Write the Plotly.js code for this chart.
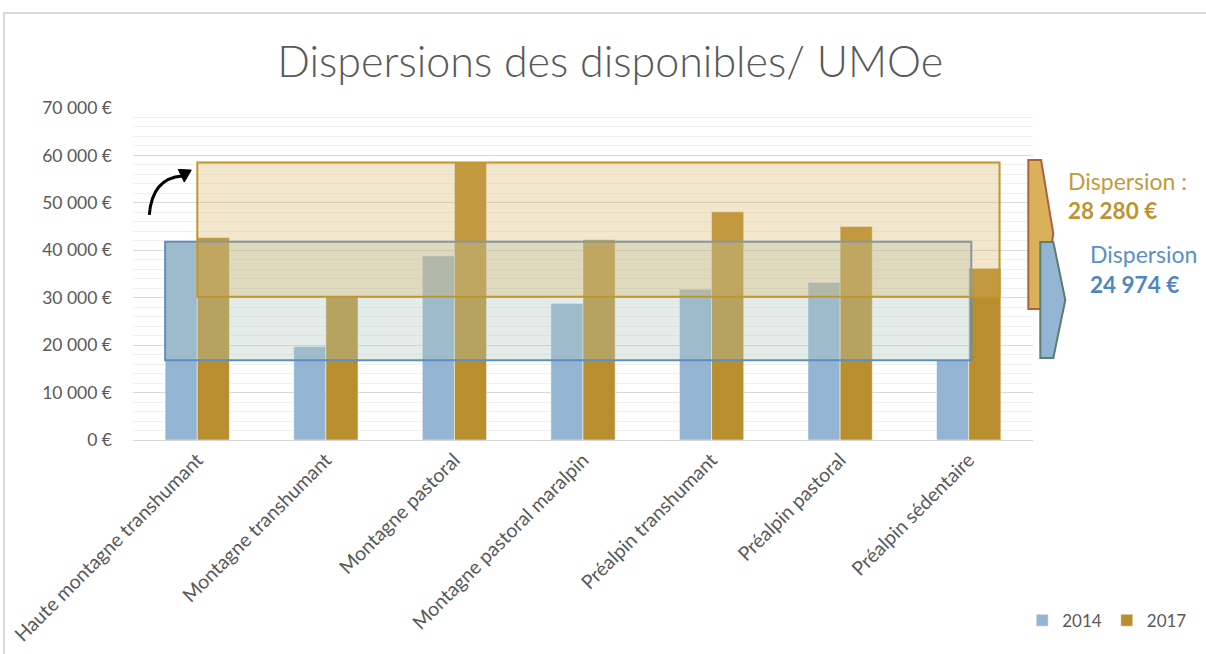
<!DOCTYPE html>
<html>
<head>
<meta charset="utf-8">
<script src="https://cdn.plot.ly/plotly-3.0.1.min.js"></script>
<style>
  html, body { margin: 0; padding: 0; background: #ffffff; overflow: hidden; }
  #chart { width: 1206px; height: 654px; }
</style>
</head>
<body>
<div id="chart"></div>
<script>
// ---- Data ----
const categories = [
  "Haute montagne transhumant",
  "Montagne transhumant",
  "Montagne pastoral",
  "Montagne pastoral maralpin",
  "Préalpin transhumant",
  "Préalpin pastoral",
  "Préalpin sédentaire"
];
const values2014 = [41800, 19700, 38800, 28800, 31800, 33200, 16826];
const values2017 = [42700, 30220, 58500, 42200, 48100, 45000, 36200];
const seriesNames = ["2014", "2017"];
const dispersionLabel2017 = ["Dispersion :", "28 280 €"];
const dispersionLabel2014 = ["Dispersion", "24 974 €"];

const FONT = "Lato, 'Open Sans', sans-serif";
const GREY = "#595959";
const BLUE = "#94b4d3";
const GOLD = "#b88e2f";

const traces = [
  { type: "bar", name: seriesNames[0], x: categories, y: values2014,
    marker: { color: BLUE, line: { color: "rgba(255,255,255,0.5)", width: 1 } } },
  { type: "bar", name: seriesNames[1], x: categories, y: values2017,
    marker: { color: GOLD, line: { color: "rgba(255,255,255,0.5)", width: 1 } } }
];

const min14 = Math.min(...values2014), max14 = Math.max(...values2014);
const min17 = Math.min(...values2017), max17 = Math.max(...values2017);

const shapes = [
  // chart-area frame (top and left edges)
  { type: "path", xref: "paper", yref: "paper",
    path: "M -0.1433,-0.66 L -0.1433,1.2861 L 1.20,1.2861",
    line: { color: "#d9d9d9", width: 2 } },
  // blue dispersion box (2014)
  { type: "rect", xref: "x", yref: "y", x0: -0.25, x1: 6.02, y0: min14, y1: max14,
    fillcolor: "rgba(177,200,191,0.35)", line: { color: "#5b8fc0", width: 2 }, layer: "above" },
  // gold dispersion box (2017)
  { type: "rect", xref: "x", yref: "y", x0: 0, x1: 6.24, y0: min17, y1: max17,
    fillcolor: "rgba(215,178,98,0.32)", line: { color: "#c0962f", width: 2 }, layer: "above" },
  // curved black arrow
  { type: "path", xref: "paper", yref: "paper",
    path: "M 0.0181,0.678 Q 0.0214,0.789 0.0550,0.795",
    line: { color: "#000000", width: 3 } },
  { type: "path", xref: "paper", yref: "paper",
    path: "M 0.0648,0.813 L 0.0503,0.815 L 0.0570,0.777 Z",
    fillcolor: "#000000", line: { color: "#000000", width: 1 } },
  // gold pentagon arrow
  { type: "path", xref: "paper", yref: "paper",
    path: "M 0.9948,0.8434 L 1.0090,0.8434 L 1.0226,0.6205 L 1.0090,0.3946 L 0.9948,0.3946 Z",
    fillcolor: "#d8b15a", line: { color: "#b0603a", width: 2 } },
  // blue pentagon arrow
  { type: "path", xref: "paper", yref: "paper",
    path: "M 1.0081,0.5964 L 1.0226,0.5964 L 1.0359,0.4217 L 1.0226,0.2470 L 1.0081,0.2470 Z",
    fillcolor: "#94b4d3", line: { color: "#5a7f6e", width: 2 } }
];

const annotations = [
  { xref: "paper", yref: "paper", x: 1.037, y: 0.780, xanchor: "left", yanchor: "middle",
    text: dispersionLabel2017[0], showarrow: false, font: { family: FONT, size: 23, color: "#c49a3c" } },
  { xref: "paper", yref: "paper", x: 1.037, y: 0.690, xanchor: "left", yanchor: "middle",
    text: "<b>" + dispersionLabel2017[1] + "</b>", showarrow: false, font: { family: FONT, size: 22.5, color: "#c0922e" } },
  { xref: "paper", yref: "paper", x: 1.061, y: 0.560, xanchor: "left", yanchor: "middle",
    text: dispersionLabel2014[0], showarrow: false, font: { family: FONT, size: 23, color: "#5b8fc6" } },
  { xref: "paper", yref: "paper", x: 1.061, y: 0.467, xanchor: "left", yanchor: "middle",
    text: "<b>" + dispersionLabel2014[1] + "</b>", showarrow: false, font: { family: FONT, size: 22.5, color: "#4f86bd" } }
];

const layout = {
  width: 1206, height: 654,
  margin: { l: 133, r: 173, t: 108, b: 214, pad: 0 },
  paper_bgcolor: "#ffffff",
  plot_bgcolor: "rgba(0,0,0,0)",
  separators: ", ",
  title: { text: "Dispersions des disponibles/ UMOe", x: 0.506, xanchor: "center",
           y: 0.905, yanchor: "middle",
           font: { family: FONT, size: 43, color: GREY, weight: 300 } },
  barmode: "group", bargap: 0.5, bargroupgap: 0,
  xaxis: {
    type: "category", tickangle: -45, showgrid: false, showline: true, linecolor: "#d9d9d9", linewidth: 1,
    ticks: "", tickfont: { family: FONT, size: 19.5, color: GREY }, range: [-0.5, 6.5]
  },
  yaxis: {
    range: [0, 70000], dtick: 10000, tickformat: ",d", ticksuffix: " €",
    showgrid: true, gridcolor: "#d9d9d9", gridwidth: 1, zeroline: false,
    minor: { dtick: 2000, showgrid: true, gridcolor: "#f0f0f0", gridwidth: 1 },
    tickfont: { family: FONT, size: 17.5, color: GREY }, ticklabelstandoff: 20
  },
  legend: { orientation: "h", x: 0.988, y: -0.49, xanchor: "left", yanchor: "top",
            font: { family: FONT, size: 17, color: GREY }, itemwidth: 30, bgcolor: "rgba(0,0,0,0)" },
  shapes: shapes,
  annotations: annotations
};

Plotly.newPlot("chart", traces, layout, { displayModeBar: false, staticPlot: true });
</script>
</body>
</html>
